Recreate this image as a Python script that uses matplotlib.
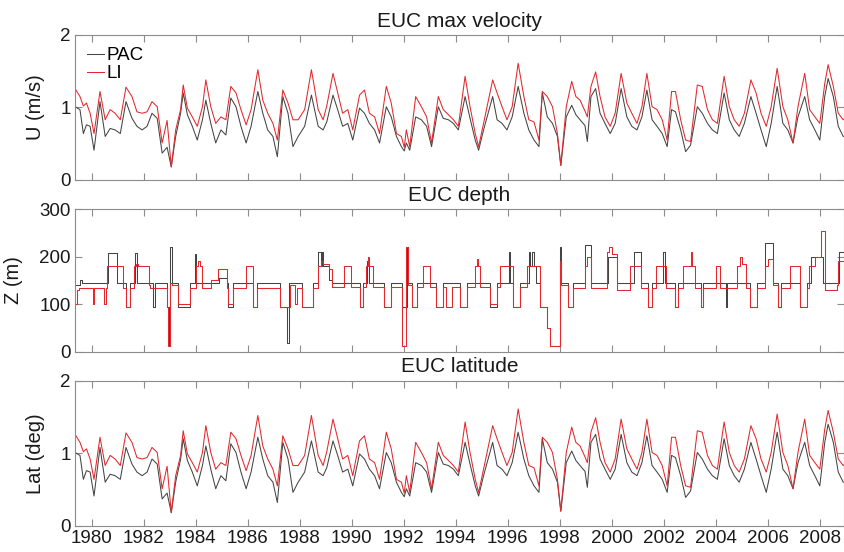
import numpy as np
import matplotlib
matplotlib.use("Agg")
from matplotlib import pyplot as plt

plt.rcParams['font.family'] = ['Liberation Sans', 'DejaVu Sans']

# ---- EUC max velocity (same series shown in the latitude panel) ----
vel_years = [1979.36, 1979.55, 1979.68, 1979.80, 1979.94, 1980.09, 1980.32, 1980.52, 1980.71, 1980.90,
             1981.10, 1981.32, 1981.55, 1981.74, 1981.94, 1982.13, 1982.32, 1982.52, 1982.71, 1982.90,
             1983.06, 1983.23, 1983.42, 1983.52, 1983.68, 1983.87, 1984.06, 1984.26, 1984.39, 1984.58,
             1984.77, 1984.97, 1985.16, 1985.35, 1985.55, 1985.74, 1985.94, 1986.13, 1986.39, 1986.58,
             1986.77, 1986.97, 1987.14, 1987.35, 1987.55, 1987.74, 1987.94, 1988.19, 1988.45, 1988.71,
             1988.90, 1989.04, 1989.28, 1989.46, 1989.65, 1989.85, 1990.04, 1990.30, 1990.49, 1990.68,
             1990.88, 1991.07, 1991.33, 1991.52, 1991.72, 1991.91, 1992.02, 1992.10, 1992.23, 1992.46,
             1992.68, 1992.88, 1993.07, 1993.33, 1993.52, 1993.72, 1993.91, 1994.10, 1994.36, 1994.55,
             1994.75, 1994.88, 1995.07, 1995.42, 1995.59, 1995.78, 1995.97, 1996.17, 1996.40, 1996.62,
             1996.81, 1997.01, 1997.20, 1997.33, 1997.52, 1997.72, 1997.91, 1998.04, 1998.25, 1998.46,
             1998.62, 1998.78, 1998.97, 1999.06, 1999.20, 1999.38, 1999.55, 1999.74, 1999.94, 2000.13,
             2000.36, 2000.58, 2000.77, 2000.97, 2001.16, 2001.35, 2001.55, 2001.74, 2001.94, 2002.13,
             2002.30, 2002.45, 2002.65, 2002.84, 2003.03, 2003.29, 2003.48, 2003.68, 2003.87, 2004.06,
             2004.32, 2004.52, 2004.71, 2004.90, 2005.10, 2005.35, 2005.55, 2005.74, 2005.94, 2006.13,
             2006.36, 2006.58, 2006.77, 2006.97, 2007.16, 2007.42, 2007.61, 2007.81, 2008.00, 2008.19,
             2008.32, 2008.52, 2008.71, 2008.90, 2008.95]
vel_li = [1.26, 1.15, 1.02, 1.06, 0.92, 0.64, 1.22, 0.83, 0.97, 0.92,
          0.83, 1.28, 1.15, 0.94, 0.92, 0.94, 1.08, 1.01, 0.51, 0.82,
          0.18, 0.69, 0.97, 1.31, 0.99, 0.87, 0.74, 1.01, 1.38, 1.01,
          0.78, 0.87, 0.83, 1.29, 1.20, 0.97, 0.76, 0.97, 1.52, 1.10,
          0.92, 0.78, 0.55, 1.24, 1.06, 0.83, 0.83, 0.97, 1.52, 0.97,
          0.83, 1.02, 1.47, 1.20, 0.92, 0.97, 0.69, 1.17, 1.24, 0.92,
          0.87, 0.64, 1.29, 1.06, 0.64, 0.60, 0.45, 0.69, 0.46, 1.15,
          1.01, 0.87, 0.51, 1.15, 0.97, 0.90, 0.83, 0.74, 1.43, 1.01,
          0.64, 0.46, 0.78, 1.38, 1.20, 1.01, 0.83, 1.01, 1.61, 1.15,
          0.83, 0.80, 0.55, 1.22, 1.15, 1.01, 0.64, 0.20, 1.01, 1.36,
          1.15, 1.10, 0.95, 0.87, 1.29, 1.49, 1.15, 0.87, 0.74, 0.92,
          1.47, 1.06, 0.92, 0.78, 1.01, 1.47, 1.01, 0.97, 0.83, 0.55,
          1.22, 1.22, 0.83, 0.55, 0.53, 1.31, 1.29, 0.97, 0.83, 0.78,
          1.43, 1.01, 0.83, 0.74, 0.92, 1.38, 1.20, 0.92, 0.74, 1.01,
          1.54, 1.01, 0.83, 0.51, 1.01, 1.47, 0.97, 0.87, 0.78, 1.33,
          1.59, 1.29, 0.92, 0.83, 0.85]
vel_pac = [1.01, 0.97, 0.64, 0.76, 0.74, 0.41, 1.08, 0.60, 0.71, 0.69,
           0.64, 1.08, 0.85, 0.74, 0.69, 0.74, 0.92, 0.85, 0.37, 0.45,
           0.18, 0.60, 0.92, 1.20, 0.90, 0.74, 0.55, 0.83, 1.10, 0.78,
           0.51, 0.69, 0.62, 1.13, 1.01, 0.74, 0.51, 0.74, 1.22, 0.92,
           0.69, 0.60, 0.32, 1.15, 0.92, 0.46, 0.60, 0.74, 1.17, 0.74,
           0.69, 0.80, 1.17, 0.97, 0.74, 0.78, 0.55, 0.99, 0.92, 0.78,
           0.69, 0.51, 1.01, 0.87, 0.60, 0.46, 0.40, 0.51, 0.41, 0.87,
           0.83, 0.74, 0.46, 1.01, 0.85, 0.83, 0.78, 0.69, 1.15, 0.85,
           0.55, 0.41, 0.69, 1.15, 0.83, 0.78, 0.69, 0.87, 1.29, 0.92,
           0.69, 0.55, 0.46, 1.20, 0.87, 0.78, 0.60, 0.20, 0.87, 1.03,
           0.90, 0.83, 0.75, 0.53, 1.15, 1.26, 0.92, 0.78, 0.64, 0.78,
           1.26, 0.87, 0.74, 0.69, 0.87, 1.24, 0.83, 0.74, 0.64, 0.46,
           0.97, 0.94, 0.69, 0.39, 0.48, 1.01, 0.92, 0.78, 0.69, 0.64,
           1.20, 0.83, 0.69, 0.60, 0.78, 1.15, 0.92, 0.69, 0.46, 0.78,
           1.29, 0.78, 0.69, 0.51, 0.87, 1.15, 0.83, 0.69, 0.55, 1.15,
           1.40, 1.15, 0.74, 0.60, 0.60]

# ---- EUC depth (step series: change times and levels) ----
dep_years_pac = [1979.36, 1979.55, 1979.62, 1980.64, 1980.96, 1981.33, 1981.48, 1981.68, 1981.75, 1982.36,
                 1982.42, 1982.88, 1982.96, 1983.02, 1983.07, 1983.33, 1983.80, 1983.97, 1984.02, 1984.90,
                 1985.20, 1985.25, 1985.45, 1986.22, 1986.35, 1987.25, 1987.52, 1987.60, 1988.10, 1988.50,
                 1988.72, 1988.80, 1988.85, 1988.90, 1989.13, 1989.25, 1990.30, 1990.45, 1990.60, 1990.65,
                 1991.25, 1991.50, 1991.95, 1992.12, 1992.18, 1992.30, 1992.50, 1993.26, 1993.50, 1994.16,
                 1994.42, 1995.30, 1995.58, 1996.03, 1996.08, 1996.20, 1996.48, 1996.80, 1996.85, 1996.95,
                 1997.00, 1997.10, 1997.25, 1997.50, 1997.64, 1998.02, 1998.06, 1998.32, 1998.50, 1998.96,
                 1999.22, 1999.85, 2000.20, 2000.85, 2001.14, 2001.40, 2001.53, 2001.97, 2002.03, 2002.42,
                 2002.55, 2003.45, 2003.50, 2004.38, 2004.45, 2005.30, 2005.60, 2005.90, 2006.20, 2006.40,
                 2006.50, 2007.23, 2007.50, 2007.65, 2008.13, 2008.75, 2008.95]
dep_pac = [140, 150, 145, 208, 145, 95, 145, 208, 145, 95,
           145, 95, 13, 220, 145, 95, 145, 205, 145, 155,
           145, 95, 145, 95, 145, 95, 18, 145, 95, 145,
           210, 180, 210, 180, 150, 145, 95, 145, 190, 145,
           95, 145, 95, 220, 145, 95, 145, 95, 145, 95,
           145, 95, 145, 210, 145, 95, 145, 210, 180, 210,
           180, 145, 95, 50, 13, 220, 145, 95, 145, 225,
           145, 200, 145, 210, 145, 95, 145, 210, 145, 95,
           145, 95, 145, 95, 145, 95, 145, 228, 145, 95,
           145, 95, 145, 200, 145, 210, 210]
dep_years_li = [1979.36, 1979.42, 1979.50, 1980.04, 1980.10, 1980.48, 1980.54, 1980.58, 1981.22, 1981.33,
                1981.48, 1981.62, 1981.70, 1981.78, 1982.20, 1982.25, 1982.88, 1982.92, 1983.00, 1983.10,
                1983.33, 1983.80, 1984.00, 1984.10, 1984.15, 1984.25, 1984.60, 1984.85, 1985.20, 1985.25,
                1985.45, 1985.95, 1986.22, 1986.35, 1987.25, 1987.62, 1987.82, 1987.88, 1988.10, 1988.50,
                1988.70, 1988.80, 1988.90, 1989.13, 1989.25, 1989.70, 1989.97, 1990.30, 1990.45, 1990.55,
                1990.62, 1990.68, 1990.80, 1991.25, 1991.50, 1991.95, 1992.07, 1992.16, 1992.30, 1992.50,
                1992.74, 1993.00, 1993.26, 1993.50, 1993.64, 1993.84, 1994.16, 1994.42, 1994.74, 1994.80,
                1994.85, 1994.93, 1995.30, 1995.58, 1995.70, 1996.20, 1996.48, 1996.73, 1997.25, 1997.50,
                1997.64, 1998.00, 1998.05, 1998.32, 1998.50, 1998.96, 1999.05, 1999.22, 1999.80, 1999.90,
                2000.00, 2000.20, 2000.70, 2001.14, 2001.40, 2001.53, 2001.72, 2002.10, 2002.42, 2002.55,
                2002.74, 2003.05, 2003.10, 2003.20, 2003.45, 2003.50, 2004.00, 2004.15, 2004.80, 2004.95,
                2005.00, 2005.18, 2005.30, 2005.60, 2005.90, 2006.00, 2006.20, 2006.40, 2006.50, 2006.85,
                2007.23, 2007.50, 2007.60, 2007.80, 2008.06, 2008.19, 2008.20, 2008.65, 2008.70, 2008.95]
dep_li = [100, 130, 135, 100, 135, 100, 135, 180, 135, 95,
          135, 180, 185, 180, 140, 135, 95, 13, 145, 140,
          100, 135, 180, 190, 180, 135, 150, 175, 135, 100,
          135, 180, 95, 135, 95, 140, 100, 135, 95, 135,
          180, 190, 185, 175, 137, 180, 137, 95, 137, 180,
          200, 180, 137, 95, 137, 13, 220, 140, 95, 137,
          180, 137, 95, 137, 95, 137, 95, 137, 180, 195,
          180, 137, 100, 137, 180, 95, 137, 180, 95, 50,
          13, 190, 140, 95, 135, 180, 200, 135, 210, 220,
          205, 130, 180, 135, 95, 135, 180, 135, 95, 135,
          180, 210, 180, 135, 95, 135, 180, 135, 180, 200,
          185, 135, 95, 135, 180, 195, 140, 95, 135, 180,
          95, 135, 180, 200, 255, 180, 130, 140, 190, 190]

xticks = list(range(1980, 2009, 2))
pac_col = "#444444"
li_col = "#e2282c"
spine_col = "#8c8c8c"
text_col = "#1a1a1a"

fig = plt.figure(figsize=(8.45, 5.52), dpi=100)
ax1 = fig.add_axes([0.0888, 0.674, 0.910, 0.2627])
ax2 = fig.add_axes([0.0888, 0.3629, 0.910, 0.258])
ax3 = fig.add_axes([0.0888, 0.0476, 0.910, 0.2627])

ax1.plot(vel_years, vel_pac, color=pac_col, lw=0.75, label="PAC")
ax1.plot(vel_years, vel_li, color=li_col, lw=0.75, label="LI")
ax2.step(dep_years_pac, dep_pac, where="post", color=pac_col, lw=0.75)
ax2.step(dep_years_li, dep_li, where="post", color=li_col, lw=0.75)
ax3.plot(vel_years, vel_pac, color=pac_col, lw=0.75)
ax3.plot(vel_years, vel_li, color=li_col, lw=0.75)

for ax, ttl, yl, lim, yt in [(ax1, "EUC max velocity", "U (m/s)", (0, 2), [0, 1, 2]),
                             (ax2, "EUC depth", "Z (m)", (0, 300), [0, 100, 200, 300]),
                             (ax3, "EUC latitude", "Lat (deg)", (0, 2), [0, 1, 2])]:
    ax.set_xlim(1979.36, 2008.93)
    ax.set_ylim(*lim)
    ax.set_yticks(yt)
    ax.set_xticks(xticks)
    ax.set_title(ttl, fontsize=15, color=text_col, pad=6)
    ax.set_ylabel(yl, fontsize=14.5, color=text_col)
    ax.tick_params(direction="in", length=5, width=0.8, color=spine_col, top=True, right=True,
                   labelsize=13.5, labelcolor=text_col, pad=3)
    for s in ax.spines.values():
        s.set_color(spine_col)
        s.set_linewidth(0.8)
    if ax is not ax3:
        ax.set_xticklabels([])

ax1.yaxis.set_label_coords(-0.039, 0.5)
ax2.yaxis.set_label_coords(-0.068, 0.5)
ax3.yaxis.set_label_coords(-0.039, 0.5)
ax3.set_xticklabels([str(y) for y in xticks])

ax1.legend(loc="upper left", frameon=False, fontsize=13.5, handlelength=0.9, handletextpad=0.15,
           labelspacing=0.05, borderaxespad=0.45, borderpad=0.2)

fig.savefig("out.png", dpi=100)
